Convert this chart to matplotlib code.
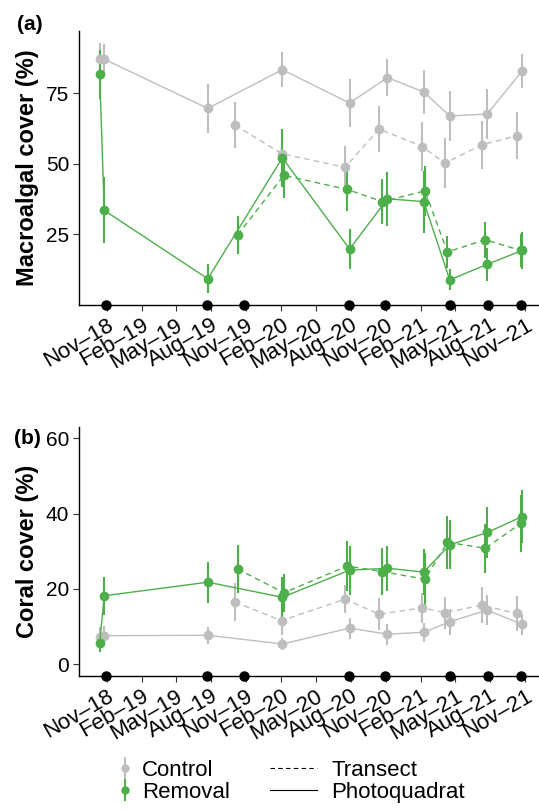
import matplotlib
matplotlib.use('Agg')
import matplotlib.pyplot as plt
import pandas as pd
from matplotlib.lines import Line2D

plt.rcParams['font.family'] = ['Liberation Sans', 'DejaVu Sans']

GREY = '#BEBEBE'
GREEN = '#4DAF4A'

# sampling dates
pq_dates = ['2018-10-14', '2018-10-26', '2019-07-24', '2020-02-04', '2020-07-29',
            '2020-11-05', '2021-02-08', '2021-04-17', '2021-07-24', '2021-10-23']
ctrl_tr_dates = ['2019-10-03', '2020-02-02', '2020-07-17', '2020-10-14',
                 '2021-02-04', '2021-04-04', '2021-07-10', '2021-10-09']
rem_tr_dates = ['2019-10-10', '2020-02-08', '2020-07-23', '2020-10-23',
                '2021-02-11', '2021-04-11', '2021-07-19', '2021-10-20']
removal_dates = ['2018-10-31', '2019-07-23', '2019-10-27', '2020-07-28',
                 '2020-10-30', '2021-04-17', '2021-07-25', '2021-10-20']

# (a) macroalgal cover
ctrl_pq_macro = [87.2, 87.0, 69.6, 83.3, 71.5, 80.5, 75.4, 66.9, 67.6, 82.8]
ctrl_pq_macro_se = [5.5, 5.5, 8.8, 6.2, 8.5, 6.6, 7.8, 8.8, 8.8, 6.0]
rem_pq_macro = [81.6, 33.5, 9.3, 52.1, 19.8, 37.6, 36.6, 8.9, 14.4, 19.3]
rem_pq_macro_se = [8.5, 11.7, 5.2, 10.3, 7.0, 9.5, 11.0, 3.7, 5.8, 6.7]
ctrl_tr_macro = [63.7, 53.6, 48.7, 62.3, 56.1, 50.2, 56.7, 59.9]
ctrl_tr_macro_se = [8.0, 5.0, 7.5, 8.2, 8.7, 8.8, 8.5, 8.3]
rem_tr_macro = [24.8, 45.9, 40.9, 36.6, 40.4, 18.8, 23.1, 19.3]
rem_tr_macro_se = [6.7, 8.0, 7.5, 8.0, 8.8, 5.7, 6.3, 6.0]

# (b) coral cover
ctrl_pq_coral = [7.3, 7.6, 7.7, 5.4, 9.6, 8.0, 8.5, 11.3, 14.4, 10.6]
ctrl_pq_coral_se = [2.5, 2.5, 2.3, 1.5, 2.8, 2.8, 2.5, 3.5, 4.0, 2.7]
rem_pq_coral = [5.6, 18.2, 21.8, 17.8, 25.0, 25.5, 24.5, 31.7, 35.0, 39.2]
rem_pq_coral_se = [2.4, 5.0, 5.4, 5.5, 6.5, 6.0, 6.0, 6.5, 6.7, 7.0]
ctrl_tr_coral = [16.5, 11.6, 17.3, 13.3, 15.0, 13.7, 15.7, 13.5]
ctrl_tr_coral_se = [5.0, 3.7, 3.7, 4.2, 4.0, 4.2, 4.8, 4.6]
rem_tr_coral = [25.3, 19.0, 26.1, 24.6, 22.6, 32.4, 30.8, 37.4]
rem_tr_coral_se = [6.5, 5.0, 6.7, 6.2, 7.0, 7.0, 6.5, 7.5]

tick_dates = pd.date_range('2018-11-01', '2021-11-01', freq='3MS')
tick_labels = [d.strftime('%b') + '\u2013' + d.strftime('%y') for d in tick_dates]


def draw_series(ax, dates, vals, se, color, ls):
    ax.errorbar(pd.to_datetime(dates), vals, yerr=se, color=color, ls=ls,
                lw=1, marker='o', ms=6, elinewidth=1.5, capsize=0,
                dashes=(4, 3) if ls == '--' else (None, None))


def panel(ax, data, ylim, yticks, ylabel):
    ctrl_pq, ctrl_pq_se, ctrl_tr, ctrl_tr_se, rem_pq, rem_pq_se, rem_tr, rem_tr_se = data
    draw_series(ax, ctrl_tr_dates, ctrl_tr, ctrl_tr_se, GREY, '--')
    draw_series(ax, pq_dates, ctrl_pq, ctrl_pq_se, GREY, '-')
    draw_series(ax, rem_tr_dates, rem_tr, rem_tr_se, GREEN, '--')
    draw_series(ax, pq_dates, rem_pq, rem_pq_se, GREEN, '-')
    ax.plot(pd.to_datetime(removal_dates), [ylim[0]] * len(removal_dates), 'o',
            color='black', ms=6.5, clip_on=False, zorder=5)
    ax.set_xlim(pd.Timestamp('2018-08-21'), pd.Timestamp('2021-12-04'))
    ax.set_ylim(*ylim)
    ax.set_yticks(yticks)
    ax.set_xticks(tick_dates)
    ax.set_xticklabels(tick_labels, rotation=30, ha='right', rotation_mode='anchor')
    ax.set_ylabel(ylabel, fontsize=17, fontweight='bold')
    ax.yaxis.set_label_coords(-0.088, 0.5)
    for s in ('top', 'right'):
        ax.spines[s].set_visible(False)
    for s in ('left', 'bottom'):
        ax.spines[s].set_linewidth(1)
    ax.tick_params(axis='both', labelsize=15, length=4, width=0.8, color='#333333', pad=3)
    ax.tick_params(axis='x', labelsize=16)


fig = plt.figure(figsize=(5.39, 8.11), dpi=100)
ax1 = fig.add_axes([0.1466, 0.6239, 0.8516, 0.3379])
ax2 = fig.add_axes([0.1466, 0.1665, 0.8516, 0.3074])

panel(ax1, (ctrl_pq_macro, ctrl_pq_macro_se, ctrl_tr_macro, ctrl_tr_macro_se,
            rem_pq_macro, rem_pq_macro_se, rem_tr_macro, rem_tr_macro_se),
      (0, 97), [25, 50, 75], 'Macroalgal cover (%)')
panel(ax2, (ctrl_pq_coral, ctrl_pq_coral_se, ctrl_tr_coral, ctrl_tr_coral_se,
            rem_pq_coral, rem_pq_coral_se, rem_tr_coral, rem_tr_coral_se),
      (-3.1, 63.1), [0, 20, 40, 60], 'Coral cover (%)')

fig.text(17 / 539, 1 - 15 / 811, '(a)', fontsize=15, fontweight='bold', va='top', ha='left')
fig.text(14 / 539, 1 - 429 / 811, '(b)', fontsize=15, fontweight='bold', va='top', ha='left')

h_ctrl = ax1.errorbar([], [], yerr=[], color=GREY, ls='none', marker='o', ms=5, elinewidth=1.5)
h_rem = ax1.errorbar([], [], yerr=[], color=GREEN, ls='none', marker='o', ms=5, elinewidth=1.5)
fig.legend([h_ctrl, h_rem], ['Control', 'Removal'], loc='upper left',
           bbox_to_anchor=(114 / 539, 1 - 760 / 811), frameon=False, fontsize=16,
           handlelength=1.0, handletextpad=0.25, labelspacing=0.05,
           borderpad=0, borderaxespad=0)
h_tr = Line2D([], [], color='black', lw=0.8, ls=(0, (4, 3)))
h_pq = Line2D([], [], color='black', lw=0.8)
fig.legend([h_tr, h_pq], ['Transect', 'Photoquadrat'], loc='upper left',
           bbox_to_anchor=(270 / 539, 1 - 760 / 811), frameon=False, fontsize=16,
           handlelength=2.1, handletextpad=0.65, labelspacing=0.05,
           borderpad=0, borderaxespad=0)

fig.savefig('out.png', dpi=100)
